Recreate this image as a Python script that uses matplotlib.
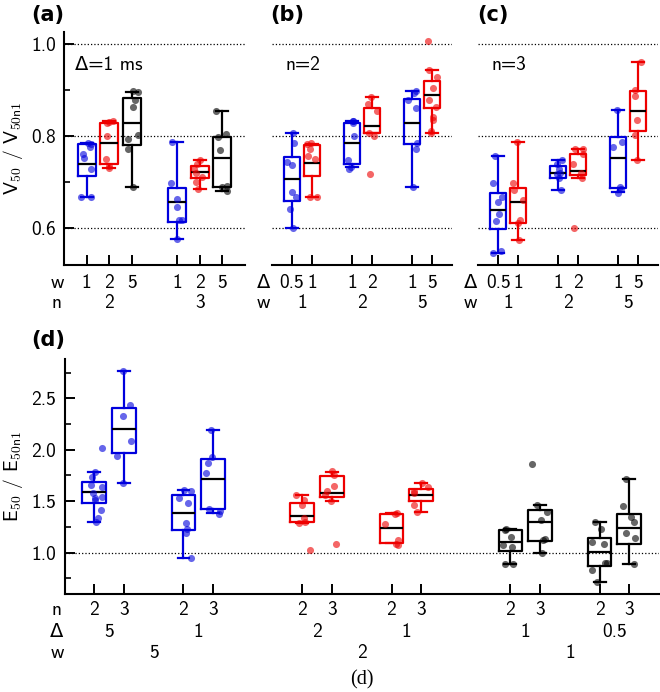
import numpy as np
import matplotlib
matplotlib.use('Agg')
import matplotlib.pyplot as plt

plt.rcParams['font.family'] = ['cmss10', 'DejaVu Sans']
plt.rcParams['mathtext.fontset'] = 'cm'
plt.rcParams['axes.unicode_minus'] = False

BLUE = '#0000dd'
RED = '#ee0000'
BLACK = '#000000'

# ---- panel (a): Delta = 1 ms, boxes ordered w1 w2 w5 (n=2), w1 w2 w5 (n=3)
a_w = ['1', '2', '5', '1', '2', '5']
a_n = ['2', '3']
a_colors = [BLUE, RED, BLACK, BLUE, RED, BLACK]
a_q1 = [0.714, 0.740, 0.780, 0.614, 0.709, 0.690]
a_med = [0.740, 0.786, 0.828, 0.657, 0.722, 0.753]
a_q3 = [0.783, 0.829, 0.882, 0.687, 0.736, 0.797]
a_lo = [0.668, 0.731, 0.689, 0.577, 0.685, 0.681]
a_hi = [0.785, 0.832, 0.896, 0.788, 0.748, 0.855]
a_pts = [
    [0.785, 0.782, 0.776, 0.762, 0.752, 0.729, 0.668, 0.668],
    [0.832, 0.830, 0.828, 0.800, 0.750, 0.735, 0.731],
    [0.897, 0.895, 0.879, 0.864, 0.802, 0.793, 0.773, 0.689],
    [0.788, 0.699, 0.664, 0.646, 0.618, 0.618, 0.577],
    [0.749, 0.740, 0.728, 0.720, 0.712, 0.700, 0.685],
    [0.855, 0.804, 0.797, 0.770, 0.692, 0.690, 0.681],
]

# ---- panel (b): n = 2
b_delta = ['0.5', '1', '1', '2', '1', '5']
b_w = ['1', '2', '5']
b_colors = [BLUE, RED, BLUE, RED, BLUE, RED]
b_q1 = [0.660, 0.713, 0.740, 0.806, 0.782, 0.862]
b_med = [0.706, 0.742, 0.785, 0.822, 0.828, 0.889]
b_q3 = [0.755, 0.780, 0.829, 0.862, 0.881, 0.919]
b_lo = [0.600, 0.668, 0.732, 0.806, 0.689, 0.806]
b_hi = [0.806, 0.782, 0.833, 0.884, 0.897, 0.944]
b_pts = [
    [0.806, 0.784, 0.744, 0.737, 0.679, 0.668, 0.642, 0.600],
    [0.782, 0.784, 0.773, 0.757, 0.751, 0.668, 0.668],
    [0.833, 0.832, 0.829, 0.800, 0.748, 0.733, 0.729],
    [0.884, 0.870, 0.855, 0.806, 0.800, 0.717],
    [0.898, 0.893, 0.879, 0.860, 0.784, 0.773, 0.689],
    [1.006, 0.944, 0.929, 0.904, 0.879, 0.864, 0.842, 0.835, 0.812, 0.806],
]

# ---- panel (c): n = 3
c_delta = ['0.5', '1', '1', '2', '1', '5']
c_w = ['1', '2', '5']
c_colors = [BLUE, RED, BLUE, RED, BLUE, RED]
c_q1 = [0.599, 0.612, 0.708, 0.716, 0.688, 0.811]
c_med = [0.640, 0.657, 0.720, 0.724, 0.753, 0.855]
c_q3 = [0.677, 0.687, 0.735, 0.762, 0.799, 0.897]
c_lo = [0.546, 0.575, 0.682, 0.709, 0.679, 0.748]
c_hi = [0.756, 0.788, 0.748, 0.771, 0.857, 0.961]
c_pts = [
    [0.756, 0.697, 0.668, 0.657, 0.631, 0.615, 0.551, 0.546],
    [0.788, 0.697, 0.682, 0.662, 0.617, 0.611, 0.575],
    [0.749, 0.740, 0.729, 0.719, 0.717, 0.710, 0.682],
    [0.773, 0.771, 0.760, 0.740, 0.720, 0.709, 0.600],
    [0.857, 0.788, 0.777, 0.690, 0.684, 0.676],
    [0.961, 0.900, 0.886, 0.835, 0.802, 0.748],
]

# ---- panel (d): energy ratio
d_n = ['2', '3'] * 6
d_delta = ['5', '1', '2', '1', '1', '0.5']
d_w = ['5', '2', '1']
d_colors = [BLUE] * 4 + [RED] * 4 + [BLACK] * 4
d_q1 = [1.482, 1.971, 1.217, 1.421, 1.301, 1.544, 1.097, 1.505, 1.019, 1.117, 0.871, 1.081]
d_med = [1.586, 2.204, 1.382, 1.715, 1.359, 1.583, 1.239, 1.560, 1.104, 1.301, 1.010, 1.243]
d_q3 = [1.686, 2.408, 1.557, 1.906, 1.485, 1.744, 1.375, 1.618, 1.220, 1.414, 1.139, 1.379]
d_lo = [1.294, 1.673, 0.951, 1.382, 1.290, 1.505, 1.090, 1.398, 0.887, 0.994, 0.718, 0.890]
d_hi = [1.780, 2.764, 1.608, 2.197, 1.560, 1.786, 1.388, 1.673, 1.230, 1.463, 1.294, 1.712]
d_pts = [
    [2.019, 1.780, 1.738, 1.657, 1.640, 1.583, 1.544, 1.527, 1.510, 1.414, 1.340, 1.294],
    [2.764, 2.434, 2.327, 2.084, 1.939, 1.673],
    [1.608, 1.600, 1.534, 1.479, 1.291, 1.227, 1.188, 0.951],
    [2.197, 1.932, 1.874, 1.770, 1.421, 1.400, 1.375],
    [1.560, 1.511, 1.463, 1.333, 1.300, 1.290, 1.026],
    [1.796, 1.750, 1.650, 1.600, 1.560, 1.500, 1.081],
    [1.388, 1.380, 1.275, 1.123, 1.081, 1.074],
    [1.680, 1.641, 1.600, 1.576, 1.463, 1.398],
    [1.230, 1.220, 1.149, 1.070, 1.058, 0.887, 0.887],
    [1.858, 1.463, 1.398, 1.317, 1.129, 1.123, 0.994],
    [1.294, 1.227, 1.107, 1.081, 0.900, 0.896, 0.832, 0.718],
    [1.712, 1.456, 1.343, 1.298, 1.188, 1.139, 0.890],
]

rng = np.random.default_rng(7)
FS = 14


def draw_boxes(ax, pos, colors, q1, med, q3, lo, hi, pts, capw):
    stats = []
    for i in range(len(pos)):
        stats.append(dict(q1=q1[i], med=med[i], q3=q3[i],
                          whislo=lo[i], whishi=hi[i], fliers=[]))
    bp = ax.bxp(stats, positions=pos, widths=0.8, capwidths=capw,
                showfliers=False, manage_ticks=False)
    for i, c in enumerate(colors):
        bp['boxes'][i].set(color=c, lw=1.6)
        for ln in bp['whiskers'][2*i:2*i+2] + bp['caps'][2*i:2*i+2]:
            ln.set(color=c, lw=1.6)
        bp['medians'][i].set(color='k', lw=1.6)
        x = pos[i] + rng.uniform(-0.27, 0.27, len(pts[i]))
        ax.scatter(x, pts[i], s=26, color=c, alpha=0.6, lw=0, zorder=3)


def style(ax, pos, left=True):
    for s in ['top', 'right']:
        ax.spines[s].set_visible(False)
    ax.spines['bottom'].set_linewidth(1.5)
    ax.spines['left'].set_linewidth(1.5)
    if not left:
        ax.spines['left'].set_visible(False)
        ax.tick_params(axis='y', which='both', left=False, labelleft=False)
    ax.set_xticks(pos)
    ax.tick_params(axis='x', labelbottom=False)
    ax.tick_params(which='major', direction='in', length=7, width=1.4,
                   labelsize=FS, pad=6)
    ax.tick_params(which='minor', direction='in', length=4, width=1.2)


def row(ax, xs, labels, y):
    tr = ax.get_xaxis_transform()
    for x, t in zip(xs, labels):
        ax.text(x, y, t, transform=tr, ha='center', va='center',
                fontsize=FS, clip_on=False)


fig = plt.figure(figsize=(6.6, 6.92), dpi=100)
W, H = 660.0, 692.0
axa = fig.add_axes([64/W, 1-265/H, 181/W, 233/H])
axb = fig.add_axes([271.7/W, 1-265/H, 180.3/W, 233/H], sharey=axa)
axc = fig.add_axes([478.3/W, 1-265/H, 180/W, 233/H], sharey=axa)
axd = fig.add_axes([64.6/W, 1-593.7/H, 594.4/W, 234.4/H])

pos_a = [1, 2, 3, 5, 6, 7]
pos_bc = [1, 2, 4, 5, 7, 8]
pos_d = [1, 2, 4, 5, 8, 9, 11, 12, 15, 16, 18, 19]

for ax in [axa, axb, axc]:
    for v in [0.6, 0.8, 1.0]:
        ax.axhline(v, ls=':', color='k', lw=0.9, zorder=0)
axd.axhline(1.0, ls=':', color='k', lw=0.9, zorder=0)

draw_boxes(axa, pos_a, a_colors, a_q1, a_med, a_q3, a_lo, a_hi, a_pts, 0.53)
draw_boxes(axb, pos_bc, b_colors, b_q1, b_med, b_q3, b_lo, b_hi, b_pts, 0.6)
draw_boxes(axc, pos_bc, c_colors, c_q1, c_med, c_q3, c_lo, c_hi, c_pts, 0.6)
draw_boxes(axd, pos_d, d_colors, d_q1, d_med, d_q3, d_lo, d_hi, d_pts, 0.4)

style(axa, pos_a)
style(axb, pos_bc, left=False)
style(axc, pos_bc, left=False)
style(axd, pos_d)

axa.set_xlim(0, 8)
axb.set_xlim(0, 9)
axc.set_xlim(0, 9)
axd.set_xlim(0, 20)
axa.set_ylim(0.52, 1.026)
axd.set_ylim(0.6, 2.88)

axa.set_yticks([0.6, 0.8, 1.0], ['0.6', '0.8', '1.0'])
axa.set_yticks([0.7, 0.9], minor=True)
axd.set_yticks([1.0, 1.5, 2.0, 2.5], ['1.0', '1.5', '2.0', '2.5'])
axd.set_yticks([0.75, 1.25, 1.75, 2.25, 2.75], minor=True)

# category rows under the axes
row(axa, pos_a, a_w, -0.077)
row(axa, [2, 6], a_n, -0.165)
axa.text(-0.039, -0.077, 'w', transform=axa.transAxes, ha='center', va='center', fontsize=FS)
axa.text(-0.039, -0.165, 'n', transform=axa.transAxes, ha='center', va='center', fontsize=FS)

for ax, dl, wl in [(axb, b_delta, b_w), (axc, c_delta, c_w)]:
    row(ax, pos_bc, dl, -0.077)
    row(ax, [1.5, 4.5, 7.5], wl, -0.165)
    ax.text(-0.045, -0.077, 'Δ', transform=ax.transAxes, ha='center', va='center', fontsize=FS)
    ax.text(-0.045, -0.165, 'w', transform=ax.transAxes, ha='center', va='center', fontsize=FS)

row(axd, pos_d, d_n, -0.070)
row(axd, [1.5, 4.5, 8.5, 11.5, 15.5, 18.5], d_delta, -0.163)
row(axd, [3, 10, 17], d_w, -0.253)
for t, y in [('n', -0.070), ('Δ', -0.163), ('w', -0.253)]:
    axd.text(-0.0128, y, t, transform=axd.transAxes, ha='center', va='center', fontsize=FS)
axd.text(10, -0.368, '(d)', transform=axd.get_xaxis_transform(), ha='center',
         va='center', fontsize=14.5, family='Liberation Serif')

# annotations
axa.text(0.061, 0.858, 'Δ=1 ms', transform=axa.transAxes, va='center', fontsize=FS)
axb.text(0.074, 0.858, 'n=2', transform=axb.transAxes, va='center', fontsize=FS)
axc.text(0.076, 0.858, 'n=3', transform=axc.transAxes, va='center', fontsize=FS)

for ax, lab, x, y in [(axa, '(a)', -0.088, 1.073), (axb, '(b)', 0.085, 1.073),
                      (axc, '(c)', 0.082, 1.073), (axd, '(d)', -0.028, 1.082)]:
    ax.text(x, y, lab, transform=ax.transAxes, ha='center', va='center',
            fontsize=15, fontweight='bold', family='DejaVu Sans')

fig.text(13/W, 1-148.5/H, r'V$_{\mathsf{50}}$ / V$_{\mathsf{50n1}}$', rotation=90,
         ha='center', va='center', fontsize=FS)
fig.text(13/W, 1-476.5/H, r'E$_{\mathsf{50}}$ / E$_{\mathsf{50n1}}$', rotation=90,
         ha='center', va='center', fontsize=FS)

fig.savefig('out.png', dpi=100)
